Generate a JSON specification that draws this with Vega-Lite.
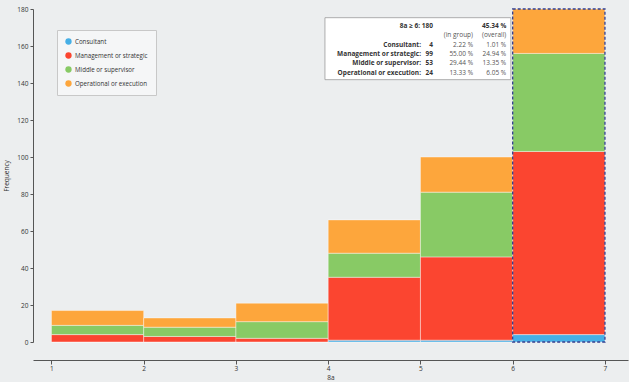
{
  "$schema": "https://vega.github.io/schema/vega-lite/v6.json",
  "width": 595,
  "height": 333,
  "autosize": {"type": "none"},
  "padding": {"left": 33, "top": 9, "right": 1, "bottom": 40},
  "background": "#eceeef",
  "config": {
    "view": {"stroke": null},
    "font": "Open Sans",
    "axis": {"labelFont": "Open Sans", "titleFont": "Open Sans", "labelColor": "#333", "titleColor": "#333", "domainColor": "#555", "tickColor": "#555", "grid": false, "labelOverlap": false}
  },
  "datasets": {
    "bars": [
      {"bin_start": 1, "bin_end": 2, "level": "Consultant", "count": 0},
      {"bin_start": 1, "bin_end": 2, "level": "Management or strategic", "count": 4},
      {"bin_start": 1, "bin_end": 2, "level": "Middle or supervisor", "count": 5},
      {"bin_start": 1, "bin_end": 2, "level": "Operational or execution", "count": 8},
      {"bin_start": 2, "bin_end": 3, "level": "Consultant", "count": 0},
      {"bin_start": 2, "bin_end": 3, "level": "Management or strategic", "count": 3},
      {"bin_start": 2, "bin_end": 3, "level": "Middle or supervisor", "count": 5},
      {"bin_start": 2, "bin_end": 3, "level": "Operational or execution", "count": 5},
      {"bin_start": 3, "bin_end": 4, "level": "Consultant", "count": 0},
      {"bin_start": 3, "bin_end": 4, "level": "Management or strategic", "count": 2},
      {"bin_start": 3, "bin_end": 4, "level": "Middle or supervisor", "count": 9},
      {"bin_start": 3, "bin_end": 4, "level": "Operational or execution", "count": 10},
      {"bin_start": 4, "bin_end": 5, "level": "Consultant", "count": 1},
      {"bin_start": 4, "bin_end": 5, "level": "Management or strategic", "count": 34},
      {"bin_start": 4, "bin_end": 5, "level": "Middle or supervisor", "count": 13},
      {"bin_start": 4, "bin_end": 5, "level": "Operational or execution", "count": 18},
      {"bin_start": 5, "bin_end": 6, "level": "Consultant", "count": 1},
      {"bin_start": 5, "bin_end": 6, "level": "Management or strategic", "count": 45},
      {"bin_start": 5, "bin_end": 6, "level": "Middle or supervisor", "count": 35},
      {"bin_start": 5, "bin_end": 6, "level": "Operational or execution", "count": 19},
      {"bin_start": 6, "bin_end": 7, "level": "Consultant", "count": 4},
      {"bin_start": 6, "bin_end": 7, "level": "Management or strategic", "count": 99},
      {"bin_start": 6, "bin_end": 7, "level": "Middle or supervisor", "count": 53},
      {"bin_start": 6, "bin_end": 7, "level": "Operational or execution", "count": 24}
    ]
  },
  "layer": [
    {
      "data": {"name": "bars"},
      "transform": [
        {"lookup": "level", "from": {"data": {"values": [
          {"level": "Consultant", "stackorder": 1},
          {"level": "Management or strategic", "stackorder": 2},
          {"level": "Middle or supervisor", "stackorder": 3},
          {"level": "Operational or execution", "stackorder": 4}
        ]}, "key": "level", "fields": ["stackorder"]}},
        {"stack": "count", "groupby": ["bin_start"], "sort": [{"field": "stackorder", "order": "ascending"}], "as": ["y0", "y1"]}
      ],
      "mark": {"type": "rect", "stroke": "#ffffff", "strokeWidth": 0.6, "strokeOpacity": 0.7},
      "encoding": {
        "x": {
          "field": "bin_start", "type": "quantitative",
          "scale": {"domain": [0.8, 7.25], "nice": false, "zero": false},
          "axis": {"values": [1, 2, 3, 4, 5, 6, 7], "format": "d", "offset": 18, "tickSize": 4, "labelFontSize": 6.5, "labelPadding": 1, "title": "8a", "titleFontSize": 6.5, "titleFontWeight": "normal", "titlePadding": 3}
        },
        "x2": {"field": "bin_end"},
        "y": {
          "field": "y0", "type": "quantitative",
          "scale": {"domain": [0, 180], "nice": false},
          "axis": {"values": [0, 20, 40, 60, 80, 100, 120, 140, 160, 180], "tickCount": 10, "labelOverlap": false, "tickSize": 3, "labelFontSize": 6.5, "labelPadding": 2, "title": "Frequency", "titleFontSize": 6.5, "titleFontWeight": "normal", "titlePadding": 7}
        },
        "y2": {"field": "y1"},
        "color": {
          "field": "level", "type": "nominal",
          "scale": {
            "domain": ["Consultant", "Management or strategic", "Middle or supervisor", "Operational or execution"],
            "range": ["#46afe6", "#fb4530", "#88ca65", "#fda63c"]
          },
          "legend": {
            "title": null, "orient": "none", "legendX": 24, "legendY": 21,
            "symbolType": "circle", "symbolSize": 40, "symbolStrokeWidth": 0,
            "labelFontSize": 6.2, "labelColor": "#333", "rowPadding": 7, "labelOffset": 3,
            "padding": 8, "fillColor": "#f5f6f7", "strokeColor": "#c8c8c8"
          }
        }
      }
    },
    {
      "data": {"values": [{}]},
      "mark": {"type": "rect", "fill": null, "stroke": "#2f3d8f", "strokeWidth": 1.3, "strokeDash": [3, 2]},
      "encoding": {"x": {"datum": 6, "type": "quantitative"}, "x2": {"datum": 7}, "y": {"datum": 0, "type": "quantitative"}, "y2": {"datum": 180}}
    },
    {
      "data": {"values": [{}]},
      "mark": {"type": "rect", "fill": "#ffffff", "stroke": "#9a9a9a", "strokeWidth": 0.8},
      "encoding": {"x": {"datum": 3.965, "type": "quantitative"}, "x2": {"datum": 5.98}, "y": {"datum": 175.3, "type": "quantitative"}, "y2": {"datum": 141.8}}
    },
    {
      "data": {"values": [{}]},
      "mark": {"type": "text", "align": "right", "baseline": "top", "fontSize": 6.5, "fontWeight": "bold", "color": "#333", "lineHeight": 9.4,
        "text": ["Consultant:", "Management or strategic:", "Middle or supervisor:", "Operational or execution:"]},
      "encoding": {"x": {"datum": 5.006, "type": "quantitative"}, "y": {"datum": 162.4, "type": "quantitative"}}
    },
    {
      "data": {"values": [{}]},
      "mark": {"type": "text", "align": "right", "baseline": "top", "fontSize": 6.5, "fontWeight": "bold", "color": "#333", "lineHeight": 9.4,
        "text": ["4", "99", "53", "24"]},
      "encoding": {"x": {"datum": 5.136, "type": "quantitative"}, "y": {"datum": 162.4, "type": "quantitative"}}
    },
    {
      "data": {"values": [{}]},
      "mark": {"type": "text", "align": "right", "baseline": "top", "fontSize": 6.5, "fontWeight": "bold", "color": "#333", "text": "8a ≥ 6: 180"},
      "encoding": {"x": {"datum": 5.136, "type": "quantitative"}, "y": {"datum": 172.6, "type": "quantitative"}}
    },
    {
      "data": {"values": [{}]},
      "mark": {"type": "text", "align": "right", "baseline": "top", "fontSize": 6.5, "color": "#555", "lineHeight": 9.4,
        "text": ["(in group)", "2.22 %", "55.00 %", "29.44 %", "13.33 %"]},
      "encoding": {"x": {"datum": 5.57, "type": "quantitative"}, "y": {"datum": 167.5, "type": "quantitative"}}
    },
    {
      "data": {"values": [{}]},
      "mark": {"type": "text", "align": "right", "baseline": "top", "fontSize": 6.5, "color": "#555", "lineHeight": 9.4,
        "text": ["(overall)", "1.01 %", "24.94 %", "13.35 %", "6.05 %"]},
      "encoding": {"x": {"datum": 5.93, "type": "quantitative"}, "y": {"datum": 167.5, "type": "quantitative"}}
    },
    {
      "data": {"values": [{}]},
      "mark": {"type": "text", "align": "right", "baseline": "top", "fontSize": 6.5, "fontWeight": "bold", "color": "#333", "text": "45.34 %"},
      "encoding": {"x": {"datum": 5.93, "type": "quantitative"}, "y": {"datum": 172.6, "type": "quantitative"}}
    }
  ]
}
